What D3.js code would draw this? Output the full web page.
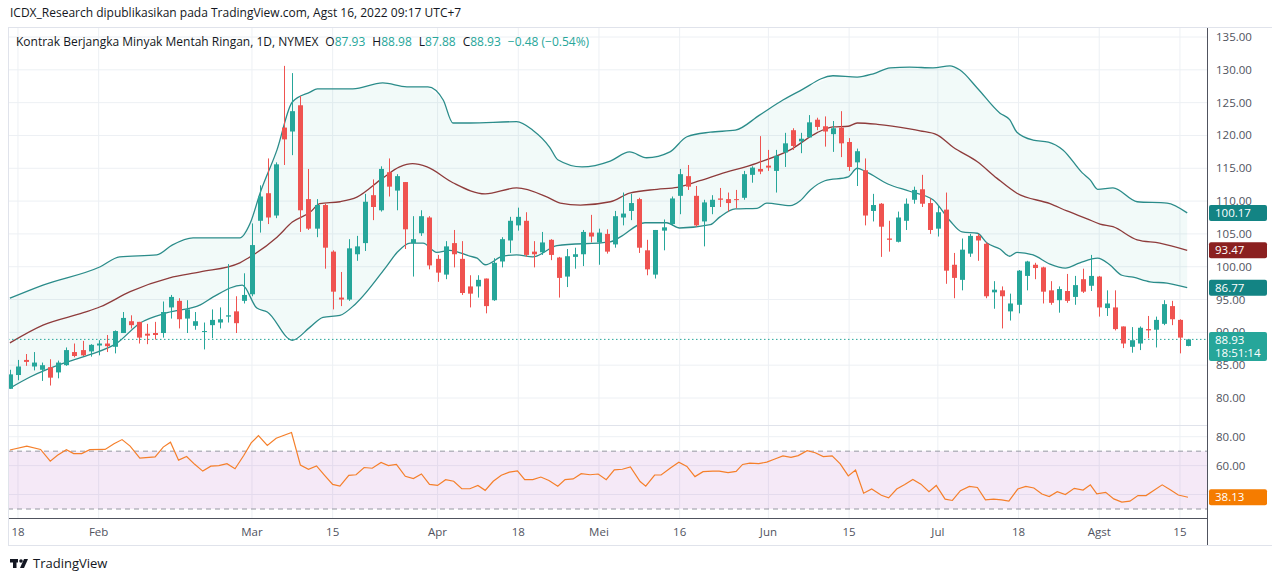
<!DOCTYPE html>
<html>
<head>
<meta charset="utf-8">
<script src="https://cdn.jsdelivr.net/npm/d3@7"></script>
<style>
  body { margin: 0; background: #fff; font-family: "Open Sans", "Noto Sans", sans-serif; }
  svg text { font-family: "Open Sans", "Noto Sans", sans-serif; }
</style>
</head>
<body>
<svg id="chart" width="1280" height="581"></svg>
<script>
// candles, one per trading day, 14 Jan .. 16 Aug 2022 (index = bar number)
var opens = [81.4,83.5,85.8,84.8,84.3,84.7,83.9,85.0,87.0,87.3,87.1,88.0,88.3,87.8,89.9,91.7,91.6,89.8,89.9,89.9,
  93.8,94.8,92.1,91.0,90.1,91.1,91.5,92.4,93.2,94.8,95.8,107.0,111.2,107.8,121.2,120.6,124.6,110.3,105.8,109.4,
  102.3,95.3,95.0,101.9,103.6,110.9,108.6,114.4,111.6,112.9,103.6,105.1,107.5,101.2,98.8,103.6,101.2,97.0,97.0,98.2,
  94.9,100.8,104.0,106.3,107.0,102.3,102.2,104.1,101.4,98.5,101.5,101.9,105.2,103.7,105.0,103.4,107.5,108.5,110.3,102.5,
  98.8,105.5,106.5,110.8,113.8,110.8,106.9,109.1,110.4,110.3,110.3,110.5,114.0,114.9,115.4,114.6,117.4,120.8,119.1,119.7,
  122.4,121.4,120.2,121.2,119.0,115.9,114.7,108.5,109.6,104.3,103.8,107.0,110.2,111.8,109.7,105.8,108.7,100.3,98.0,102.0,
  104.7,103.5,96.1,96.4,93.2,94.2,98.6,100.3,99.9,96.4,94.9,96.3,95.4,98.1,97.1,98.5,93.7,93.8,90.9,87.8,
  88.3,90.5,90.4,91.3,94.0,91.9,87.93];
var highs = [84.3,85.8,86.7,87.0,85.4,85.9,85.7,87.7,88.3,88.7,88.2,88.8,89.6,90.3,93.1,92.6,91.6,91.3,91.6,94.7,
  95.7,95.2,94.9,93.1,91.5,93.5,93.8,100.4,95.5,99.0,106.6,112.4,116.5,115.9,130.6,129.5,126.0,114.9,110.3,109.6,
  102.5,99.2,104.2,104.7,111.1,113.3,115.3,116.5,114.1,112.9,107.7,108.6,107.7,101.8,103.9,105.6,103.9,98.7,98.7,98.2,
  101.3,104.5,107.6,109.0,108.3,103.9,105.3,104.2,101.5,102.7,102.9,105.6,107.9,105.8,105.7,108.5,111.3,111.1,110.5,104.1,
  105.6,107.2,110.7,114.9,115.5,112.3,110.2,110.9,112.0,111.3,111.7,114.6,115.3,119.9,117.8,117.8,120.4,121.1,120.4,123.1,
  122.7,122.9,122.2,123.7,119.6,118.0,116.5,111.1,109.7,107.0,108.4,110.4,112.2,114.0,110.4,109.4,111.3,102.1,104.3,105.0,
  105.0,103.7,97.8,97.0,95.9,99.5,100.9,100.6,100.0,97.8,97.0,98.9,98.6,99.7,101.8,98.6,96.4,96.4,90.9,90.8,
  90.9,92.5,92.4,94.9,94.8,92.0,88.98];
var lows = [81.4,82.7,84.9,84.2,82.6,81.9,83.0,84.9,86.2,86.4,86.3,86.5,87.0,86.8,89.9,90.6,88.3,88.2,88.9,89.2,
  92.1,90.6,89.9,90.4,87.4,89.1,90.6,91.5,89.9,94.4,95.5,105.2,106.5,107.4,115.5,117.0,105.3,105.6,104.5,99.7,
  93.5,94.0,94.8,100.9,102.4,107.1,108.4,110.7,108.6,102.7,98.5,104.7,99.6,97.7,98.1,99.9,95.7,93.8,95.3,92.9,
  94.8,99.9,102.1,105.5,101.5,99.9,101.8,101.0,95.3,96.9,99.7,100.1,103.7,100.3,102.0,102.9,106.3,107.1,102.1,98.7,
  98.2,102.5,106.2,108.0,111.7,106.1,103.1,108.0,109.1,108.4,108.9,110.2,112.8,114.1,114.6,111.3,115.2,117.8,117.3,119.7,
  120.8,118.3,117.5,116.7,114.6,112.3,106.3,106.9,101.5,102.3,103.7,105.6,109.6,109.1,105.0,104.6,97.4,95.2,96.4,101.5,
  100.9,95.2,93.6,90.6,91.8,92.9,96.4,98.1,94.4,94.2,93.0,94.5,94.2,96.0,96.3,92.4,92.5,90.3,87.6,86.9,
  87.3,89.1,87.7,91.1,91.1,86.8,87.88];
var closes = [83.6,84.8,85.5,85.4,85.0,83.1,85.4,87.3,86.4,86.5,88.1,88.3,87.9,90.2,92.2,91.1,89.2,89.5,89.6,93.1,
  95.4,92.0,93.5,91.7,90.2,91.9,92.0,92.6,91.4,95.7,103.3,110.7,107.5,115.6,119.4,123.7,108.6,105.8,109.4,102.9,
  96.2,95.0,102.8,103.1,109.9,109.1,114.9,112.2,113.8,105.7,104.2,107.7,100.2,99.1,103.1,101.9,96.0,95.9,98.0,94.0,
  100.6,104.2,107.0,107.6,101.8,101.9,103.7,101.8,98.3,101.6,101.9,105.3,104.6,105.2,102.3,107.7,108.1,109.7,102.9,99.6,
  105.6,106.0,110.4,114.1,112.2,106.3,109.8,110.2,110.2,109.7,110.2,114.1,115.1,114.5,115.1,116.9,118.8,118.4,119.5,122.0,
  121.3,120.6,121.1,118.8,115.2,117.6,107.8,109.4,106.1,104.1,107.5,109.6,111.7,109.6,105.6,108.3,99.4,98.3,102.6,104.7,
  104.0,95.5,96.5,95.5,94.4,99.4,100.8,99.8,96.2,94.5,96.6,94.8,97.2,96.2,98.6,93.8,94.4,90.5,88.3,88.8,
  90.7,90.3,91.9,94.3,92.0,89.2,88.93];

// channel lines (bar position, value on price scale)
var upperIdx = [0,4.1,11.2,13.6,18.2,20.1,22.7,28.5,29.8,31,33.1,35,37.2,38.1,42.5,46.2,49.2,51.8,53.7,54.9,57,62.8,64.8,66.9,67.9,70.9,74.4,76.8,78.9,81.8,83.9,86.8,89.9,92.9,95.8,97.9,102,105,107,109.1,111.5,114.4,116.5,117.7,119.9,122.7,123.9,124.8,126.8,128.7,130.5,132.9,133.9,134.8,136.7,139.7,143.4,145.9];
var upperVal = [95.2,97.2,100.0,101.5,101.8,103.3,104.4,104.4,106.7,111.2,117.8,125.1,126.6,127.1,127.1,128.0,127.4,127.4,125.4,121.9,121.9,122.1,120.8,118.2,116.3,115.2,116.1,117.5,116.6,117.5,119.8,120.5,120.8,123.1,125.4,126.8,129.1,128.9,129.4,130.3,130.4,130.3,130.6,130.0,127.2,123.4,122.4,120.5,119.3,119.0,117.8,114.3,113.2,111.8,112.0,109.9,109.7,108.2];
var midIdx = [0,4.1,9.1,11.2,14.9,19.8,23.6,28.5,29.5,33.1,35,37.2,38.4,40.9,43,46.2,48.3,49.9,51.7,54.9,58.9,62.8,66.6,68.2,70.7,74.4,76.8,80.2,82.7,85.5,88,92.6,96.7,100,102,103.9,105,107.5,111.5,112.8,114.9,116.9,119.9,122.3,124.8,128.9,131,133.5,135.1,136.7,139.7,142.5,145.9];
var midVal = [88.4,91.1,93.0,93.9,96.2,98.3,99.2,100.6,101.3,104.5,106.8,108.3,109.6,109.9,110.6,113.5,115.2,115.7,115.2,112.8,111.1,112.0,110.6,109.7,109.4,109.9,111.2,111.8,112.1,113.1,114.1,115.8,117.8,120.4,121.3,121.4,121.9,121.7,121.0,120.7,120.1,118.2,116.0,113.5,111.2,109.6,108.5,107.3,106.5,106.1,104.1,103.6,102.5];
var lowerIdx = [0,2.5,7.1,9.9,13.3,16.1,19.5,23.6,25.2,28.8,30.6,31.9,35,37.2,38.8,40.9,42.8,46.7,48,49.6,51.2,52.9,54.5,57,57.9,58.9,61.1,62.8,64.8,67.8,74.4,75.6,78.7,81.4,83,86.8,88,89.9,92.6,93.8,96.7,97.9,99.2,101,103.9,105,106.2,108.8,111.5,114.4,116.5,118,119.9,121.1,122.7,123.9,124.8,126.8,128.9,130.8,132.6,134.8,136.3,137.8,139.2,141.3,143.4,145.9];
var lowerVal = [81.5,83.2,85.5,86.6,88.4,91.4,93.0,94.2,95.4,97.2,93.7,93.1,88.8,90.8,92.3,92.6,94.3,100.1,102.2,103.6,103.6,102.2,102.5,101.6,101.3,100.3,101.6,101.8,101.5,103.2,103.8,104.5,106.7,106.7,105.9,106.4,107.6,108.8,108.9,109.7,109.3,110.0,111.7,113.1,113.7,115.0,114.4,112.6,111.5,110.2,107.0,105.3,105.1,103.6,102.7,101.6,102.2,101.8,100.4,99.8,100.6,101.3,100.3,98.7,98.4,97.7,97.5,96.8];
var bandLabels = ["100.17", "93.47", "86.77"];

// RSI line
var rsiIdx = [0,2.1,3.8,5,5.9,7,7.9,8.9,9.9,11.8,12.9,13.9,14.9,16.1,18,19,19.9,20.9,21.9,22.9,23.9,24.9,25.9,26.9,27.9,29,29.9,30.8,31.9,33,34.9,36,37,38,39,40,40.9,42,42.9,43.9,44.9,46,46.9,47.9,49,50,51,52,53,54,55,56,57,58,58.9,59.9,60.9,61.9,62.9,63.8,64.8,65.8,66.8,67.9,68.8,69.8,70.8,71.9,72.9,73.9,74.9,75.9,76.9,78.1,78.8,79.9,80.7,81.9,82.9,83.9,84.9,85.9,87.1,87.9,89,90,90.8,91.7,92.8,93.8,94.8,95.8,96.8,97.7,98.8,99.8,100.8,101.9,102.9,103.9,104.8,105.8,106.8,108,108.9,109.9,110.9,111.9,112.9,113.9,114.8,115.9,116.8,117.8,118.9,119.9,120.9,121.9,122.9,123.8,124.9,125.9,126.9,127.9,128.8,129.8,130.8,131.9,133,133.9,134.7,135.8,136.8,137.8,138.8,139.8,140.8,141.7,142.8,143.8,144.8,146];
var rsiVal = [70.8,73.5,71.2,63.1,67.2,71.0,68.3,68.3,71.0,71.2,75.1,78.0,73.5,65.2,66.1,72.8,76.2,63.8,66.3,60.9,56.2,59.6,60.0,61.3,57.8,67.2,75.7,80.7,73.9,78.9,82.9,60.4,57.5,59.8,53.3,47.0,45.8,53.3,53.7,58.7,58.2,62.2,60.0,60.9,52.6,51.0,54.2,47.0,46.3,50.3,49.2,44.0,44.0,46.3,42.9,49.2,53.3,55.5,56.4,50.3,50.3,52.1,49.7,45.8,50.3,50.8,54.4,53.7,54.2,50.3,57.1,57.5,59.1,49.0,45.8,53.5,53.5,58.5,62.4,59.4,52.4,55.8,56.2,56.2,55.1,56.0,60.8,61.7,61.4,62.4,64.6,66.7,65.7,66.9,70.3,68.9,66.2,66.7,61.2,52.9,56.9,40.9,43.8,39.5,37.7,43.8,47.0,50.4,47.2,42.0,46.3,36.8,35.9,42.7,45.6,44.9,36.3,36.8,36.3,35.4,43.8,45.6,44.5,40.4,38.6,42.0,40.0,44.3,43.1,46.7,40.4,41.5,37.0,34.8,35.4,39.3,39.3,42.7,46.7,43.3,39.7,38.13];

var tickIdx = [1,11,30,40,53,63,73,83,94,104,115,125,135,145];
var tickLabels = ["18","Feb","Mar","15","Apr","18","Mei","16","Jun","15","Jul","18","Agst","15"];
var priceTicks = [135,130,125,120,115,110,105,100,95,90,85,80];
var rsiTicks = [80,60,40];
var legendVals = [["O", "87.93"], ["H", "88.98"], ["L", "87.88"], ["C", "88.93"]];

var up = "#26a69a", down = "#ef5350", teal = "#2b8c8a", grid = "#edf0f4", txt = "#50535e";
var plotR = 1207;

var svg = d3.select("#chart");
var x = d3.scaleLinear().domain([0, 146]).range([9.9, 1188]);
var y = d3.scaleLinear().domain([80, 135]).range([398, 37]);
var yr = d3.scaleLinear().domain([30, 80]).range([509, 436.7]);

var defs = svg.append("defs");
defs.append("clipPath").attr("id", "pc").append("rect").attr("x", 8).attr("y", 27).attr("width", plotR - 8).attr("height", 398);
defs.append("clipPath").attr("id", "rc").append("rect").attr("x", 8).attr("y", 425).attr("width", plotR - 8).attr("height", 93);

// grid
var g = svg.append("g");
g.selectAll(".hp").data(priceTicks).enter().append("line")
  .attr("x1", 8).attr("x2", plotR).attr("y1", d => y(d)).attr("y2", d => y(d)).attr("stroke", grid);
g.selectAll(".hr").data(rsiTicks).enter().append("line")
  .attr("x1", 8).attr("x2", plotR).attr("y1", d => yr(d)).attr("y2", d => yr(d)).attr("stroke", grid);
g.selectAll(".v").data(tickIdx).enter().append("line")
  .attr("x1", d => x(d)).attr("x2", d => x(d)).attr("y1", 27).attr("y2", 518).attr("stroke", grid);
g.append("line").attr("x1", 8).attr("x2", plotR).attr("y1", 425.5).attr("y2", 425.5).attr("stroke", "#e0e3eb");

// channel
var pg = svg.append("g").attr("clip-path", "url(#pc)");
var up_ = upperIdx.map((d, i) => [d, upperVal[i]]);
var lo_ = lowerIdx.map((d, i) => [d, lowerVal[i]]);
var mi_ = midIdx.map((d, i) => [d, midVal[i]]);
var line = d3.line().x(d => x(d[0])).y(d => y(d[1])).curve(d3.curveMonotoneX);
var poly = up_.concat(lo_.slice().reverse());
pg.append("path").attr("d", d3.line().x(d => x(d[0])).y(d => y(d[1]))(poly)).attr("fill", "#26a69a").attr("fill-opacity", 0.06);
pg.append("path").attr("d", line(up_)).attr("fill", "none").attr("stroke", teal).attr("stroke-width", 1.3);
pg.append("path").attr("d", line(lo_)).attr("fill", "none").attr("stroke", teal).attr("stroke-width", 1.3);
pg.append("path").attr("d", line(mi_)).attr("fill", "none").attr("stroke", "#8e3b3b").attr("stroke-width", 1.3);

// current price line
pg.append("line").attr("x1", 8).attr("x2", plotR).attr("y1", y(88.93)).attr("y2", y(88.93))
  .attr("stroke", up).attr("stroke-dasharray", "1.5,2.5");

// candles
var bars = d3.range(closes.length);
var cg = pg.append("g");
cg.selectAll(".w").data(bars).enter().append("line")
  .attr("x1", i => Math.round(x(i)) + 0.5).attr("x2", i => Math.round(x(i)) + 0.5)
  .attr("y1", i => y(highs[i])).attr("y2", i => y(lows[i]))
  .attr("stroke", i => closes[i] >= opens[i] ? up : down);
cg.selectAll(".b").data(bars).enter().append("rect")
  .attr("x", i => Math.round(x(i)) - 2).attr("width", 5)
  .attr("y", i => y(Math.max(opens[i], closes[i])))
  .attr("height", i => Math.max(1, Math.abs(y(opens[i]) - y(closes[i]))))
  .attr("fill", i => closes[i] >= opens[i] ? up : down);

// RSI pane
var rg = svg.append("g").attr("clip-path", "url(#rc)");
rg.append("rect").attr("x", 8).attr("width", plotR - 8).attr("y", yr(70)).attr("height", yr(30) - yr(70))
  .attr("fill", "#9c27b0").attr("fill-opacity", 0.1);
[70, 30].forEach(function (v) {
  rg.append("line").attr("x1", 8).attr("x2", plotR).attr("y1", yr(v)).attr("y2", yr(v))
    .attr("stroke", "#9598a1").attr("stroke-dasharray", "5,4");
});
rg.append("path").attr("d", d3.line().x((d, i) => x(rsiIdx[i])).y(d => yr(d))(rsiVal))
  .attr("fill", "none").attr("stroke", "#f57f2a").attr("stroke-width", 1.2);

// frame lines
svg.append("line").attr("x1", plotR + 0.5).attr("x2", plotR + 0.5).attr("y1", 27).attr("y2", 545).attr("stroke", "#50535e");
svg.append("line").attr("x1", 8).attr("x2", plotR).attr("y1", 518.5).attr("y2", 518.5).attr("stroke", "#50535e");
svg.append("line").attr("x1", 8).attr("x2", 1272).attr("y1", 27.5).attr("y2", 27.5).attr("stroke", "#e0e3eb");
svg.append("line").attr("x1", 8.5).attr("x2", 8.5).attr("y1", 27).attr("y2", 545).attr("stroke", "#e0e3eb");
svg.append("line").attr("x1", 8).attr("x2", 1272).attr("y1", 545.5).attr("y2", 545.5).attr("stroke", "#e0e3eb");

// axes labels; the value tags drawn afterwards cover some of them, as in the reference
svg.selectAll(".pl").data(priceTicks).enter().append("text")
  .attr("x", 1216).attr("y", d => y(d) + 4).attr("font-size", 11.5).attr("fill", txt).text(d => d.toFixed(2));
svg.selectAll(".rl").data(rsiTicks.filter(d => Math.abs(yr(d) - yr(38.13)) > 12)).enter().append("text")
  .attr("x", 1216).attr("y", d => yr(d) + 4).attr("font-size", 11.5).attr("fill", txt).text(d => d.toFixed(2));
svg.selectAll(".tl").data(tickIdx).enter().append("text")
  .attr("x", d => x(d)).attr("y", 536).attr("text-anchor", "middle").attr("font-size", 11.5).attr("fill", txt)
  .text((d, i) => tickLabels[i]);

// value tags on the right
function tag(yy, h, color, lines) {
  svg.append("rect").attr("x", 1209).attr("y", yy - h / 2).attr("width", 58).attr("height", h).attr("rx", 2).attr("fill", color);
  lines.forEach(function (t, k) {
    svg.append("text").attr("x", 1215).attr("y", yy - h / 2 + 12 + k * 13).attr("font-size", 11.5).attr("fill", "#fff").text(t);
  });
}
tag(y(upperVal[upperVal.length - 1]), 16, "#138484", [bandLabels[0]]);
tag(y(midVal[midVal.length - 1]), 16, "#8b2020", [bandLabels[1]]);
tag(y(lowerVal[lowerVal.length - 1]), 16, "#138484", [bandLabels[2]]);
tag(y(88.93) + 7, 29, up, ["88.93", "18:51:14"]);
tag(yr(38.13), 16, "#f57c00", ["38.13"]);

// header
svg.append("text").attr("x", 10).attr("y", 17).attr("font-size", 12).attr("fill", "#131722")
  .text("ICDX_Research dipublikasikan pada TradingView.com, Agst 16, 2022 09:17 UTC+7");
var lg = svg.append("text").attr("x", 16).attr("y", 46).attr("font-size", 12);
lg.append("tspan").attr("fill", "#131722").text("Kontrak Berjangka Minyak Mentah Ringan, 1D, NYMEX");
legendVals.forEach(function (p) {
  lg.append("tspan").attr("dx", 7).attr("fill", "#131722").text(p[0]);
  lg.append("tspan").attr("fill", up).text(p[1]);
});
lg.append("tspan").attr("dx", 7).attr("fill", up).text("−0.48 (−0.54%)");

// footer logo
var logo = svg.append("g").attr("fill", "#131722");
logo.append("rect").attr("x", 10).attr("y", 559).attr("width", 8).attr("height", 3.5);
logo.append("rect").attr("x", 13).attr("y", 559).attr("width", 3.5).attr("height", 9);
logo.append("circle").attr("cx", 21).attr("cy", 561).attr("r", 1.8);
logo.append("path").attr("d", "M24,559 L28,559 L24,568 L20,568 Z");
svg.append("text").attr("x", 33).attr("y", 568).attr("font-size", 13).attr("fill", "#131722").text("TradingView");
</script>
</body>
</html>
